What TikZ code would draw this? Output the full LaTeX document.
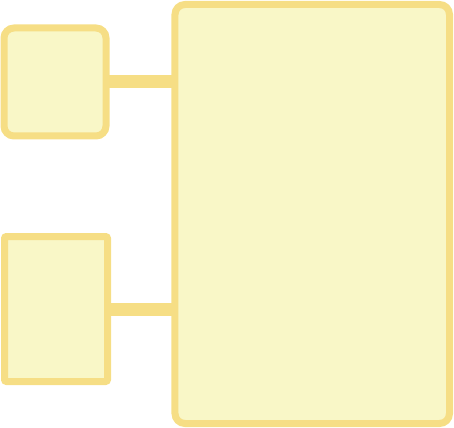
\documentclass[tikz,border=0pt]{standalone}
\usetikzlibrary{positioning}

\definecolor{boxfill}{HTML}{F9F7C7}
\definecolor{boxline}{HTML}{F6DE85}

\begin{document}
\begin{tikzpicture}[x=0.75pt,y=-0.75pt,every node/.style={outer sep=0pt,inner sep=0pt},
		block/.style={draw=boxline,fill=boxfill,line width=5.25pt},
		link/.style={draw=boxline,line width=9.75pt}]
		
		\useasboundingbox (0,0) rectangle (454,428);
		
		\node[block,rounded corners=7.5pt,minimum width=205.9pt,minimum height=314.25pt] (main) at (312.25,214) {};
		\node[block,rounded corners=7.5pt,minimum width=76.5pt,minimum height=81pt] (top) at (55,82) {};
		\node[block,rounded corners=1.5pt,minimum width=77.25pt,minimum height=108.75pt] (bottom) at (56,309) {};
		
		\draw[link] (top.east) -- (top.east -| main.west);
		\draw[link] (bottom.east) -- (bottom.east -| main.west);
		
	\end{tikzpicture}
\end{document}
